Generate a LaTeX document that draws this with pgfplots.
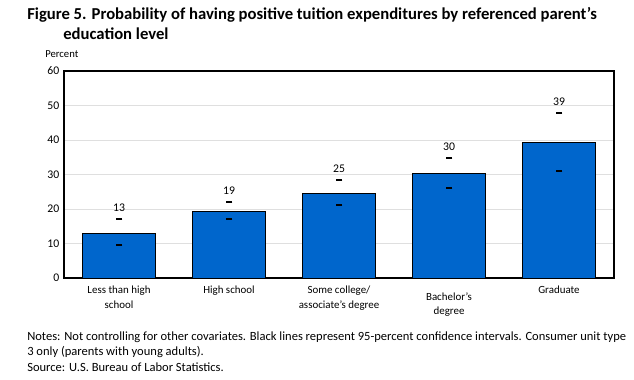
\documentclass[border=0pt]{standalone}
\usepackage{pgfplots}
\pgfplotsset{compat=1.18}
\usepackage{fontspec}
\setmainfont{Carlito}
\definecolor{barblue}{RGB}{0,102,204}
\pgfplotstableread{
x val lo hi lab
0 12.9 9.6 17.0 13
1 19.3 17.0 22.0 19
2 24.5 21.2 28.4 25
3 30.3 26.2 34.9 30
4 39.3 31.1 47.9 39
}\datatable
\begin{document}
\begin{tikzpicture}
\path[use as bounding box] (0,0) rectangle (475.5pt,-284.25pt);
\node[anchor=west, inner sep=0pt, font=\bfseries\fontsize{12.5}{14}\selectfont] at (20.25pt,-11.25pt) {Figure 5. Probability of having positive tuition expenditures by referenced parent’s};
\node[anchor=west, inner sep=0pt, font=\bfseries\fontsize{12.5}{14}\selectfont] at (47.25pt,-25.5pt) {education level};
\node[anchor=west, inner sep=0pt, font=\fontsize{8}{10}\selectfont] at (33.75pt,-40.5pt) {Percent};
\begin{axis}[
  at={(48pt,-208.5pt)}, anchor=south west,
  scale only axis, width=412.5pt, height=155.25pt,
  xmin=-0.5, xmax=4.5, ymin=0, ymax=60,
  ytick={0,10,...,60}, xtick={0,...,4},
  xticklabels={{Less than high\\school},{High school},{Some college/\\associate’s degree},{\rule{0pt}{10.5pt}Bachelor’s\\degree},{Graduate}},
  x tick label style={align=center, font=\fontsize{8.2}{11}\selectfont, yshift=-2.5pt},
  y tick label style={font=\fontsize{8.8}{10}\selectfont},
  /pgf/number format/assume math mode=true,
  ymajorgrids, grid style={gray!25, line width=0.6pt},
  major tick length=0pt,
  axis line style={black, line width=0.8pt},
  clip=false,
]
\addplot[ybar, bar width=0.67, fill=barblue, draw=black, line width=0.6pt] table[x=x, y=val] {\datatable};
\addplot[only marks, mark=-, mark size=2.6pt, mark options={line width=1.6pt, black}] table[x=x, y=lo] {\datatable};
\addplot[only marks, mark=-, mark size=2.6pt, mark options={line width=1.6pt, black},
  nodes near coords, point meta=explicit symbolic,
  nodes near coords style={font=\fontsize{8.8}{10}\selectfont, anchor=south, yshift=1.5pt}] table[x=x, y=hi, meta=lab] {\datatable};
\end{axis}
\node[anchor=west, inner sep=0pt, font=\fontsize{9.4}{10}\selectfont] at (20.25pt,-252.75pt) {Notes: Not controlling for other covariates. Black lines represent 95-percent confidence intervals. Consumer unit type};
\node[anchor=west, inner sep=0pt, font=\fontsize{9.4}{10}\selectfont] at (20.25pt,-264pt) {3 only (parents with young adults).};
\node[anchor=west, inner sep=0pt, font=\fontsize{9.4}{10}\selectfont] at (20.25pt,-275.25pt) {Source: U.S. Bureau of Labor Statistics.};
\end{tikzpicture}
\end{document}
